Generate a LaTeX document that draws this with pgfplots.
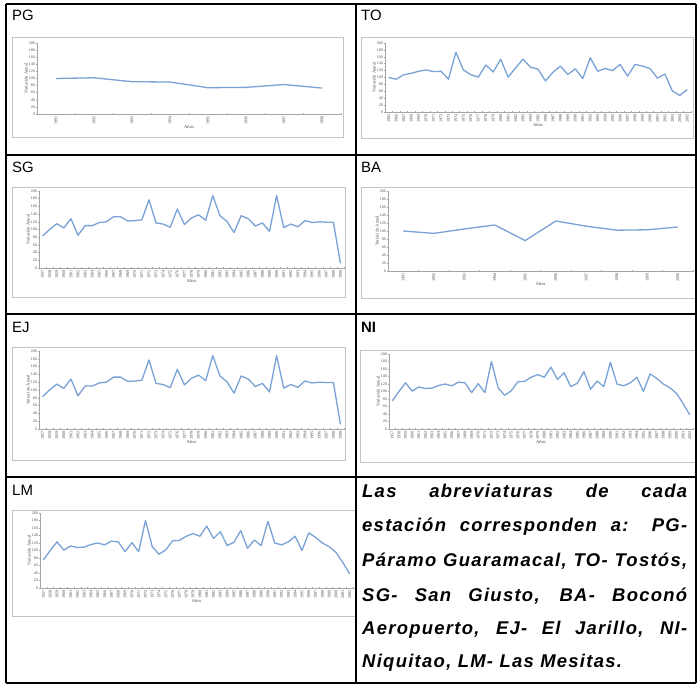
\documentclass[border=0pt]{standalone}
\usepackage{fontspec}
\setmainfont{Liberation Serif}
\newfontfamily\arial{Liberation Sans}
\newfontfamily\arialls[LetterSpace=7]{Liberation Sans}
\usepackage{pgfplots}
\pgfplotsset{compat=1.18}
\definecolor{serie}{RGB}{122,162,214}
\definecolor{boxg}{RGB}{195,195,195}
\definecolor{axg}{RGB}{165,165,165}
\definecolor{txg}{RGB}{80,80,80}
\pgfplotsset{
 mini/.style={
  scale only axis, anchor=south west,
  ymin=0, ymax=200, ytick={0,20,...,200},
  axis x line*=bottom, axis y line*=left,
  axis line style={draw=axg, line width=0.5pt, -},
  tick style={draw=axg, line width=0.4pt},
  major tick length=2bp, minor tick length=2bp,
  tick align=center,
  every major x tick/.append style={draw=none},
  /pgf/number format/assume math mode=true,
  yticklabel style={font=\fontsize{4}{4}\selectfont, text=txg, inner sep=1pt},
  xticklabel style={font=\fontsize{4.3}{4.3}\selectfont, text=txg, rotate=90, anchor=east, inner sep=1pt},
  ylabel={Variación Anual},
  ylabel style={font=\fontsize{4.6}{4.6}\selectfont, text=txg, inner sep=0pt},
  xlabel={Años},
  xlabel style={font=\fontsize{4.6}{4.6}\selectfont, text=txg, inner sep=0pt, yshift=1bp},
  clip=false,
 },
 ser/.style={serie, line width=1.3bp, line join=round},
}
\begin{document}
\begin{tikzpicture}[x=1bp,y=1bp]
\path[fill=white] (0,0) rectangle (697,685);
% chart boxes
\draw[boxg, line width=0.7bp] (12,548) rectangle (343,648);
\draw[boxg, line width=0.7bp] (361,547) rectangle (693,648);
\draw[boxg, line width=0.7bp] (12,388) rectangle (345,498);
\draw[boxg, line width=0.7bp] (361,387) rectangle (695,498);
\draw[boxg, line width=0.7bp] (12,225) rectangle (345,338);
\draw[boxg, line width=0.7bp] (360,223) rectangle (695,335);
\draw[boxg, line width=0.7bp] (356,69) -- (12,69) -- (12,175) -- (356,175);

% PG
\begin{axis}[mini, at={(37bp,571bp)}, width=304bp, height=71bp,
  xmin=0.5, xmax=8.5, xtick={1,...,8}, minor xtick={0.5,1.5,...,8.5},
  xticklabel={\pgfmathtruncatemacro\yr{\tick+1990}\yr}]
\addplot[ser] coordinates {(1,100)(2,102)(3,91)(4,90)(5,74)(6,75)(7,83)(8,73)};
\end{axis}

% TO
\begin{axis}[mini, at={(385bp,573bp)}, width=306bp, height=69bp,
  xmin=0.5, xmax=41.5, xtick={1,...,41}, minor xtick={0.5,1.5,...,41.5},
  xticklabel={\pgfmathtruncatemacro\yr{\tick+1964}\yr}]
\addplot[ser] coordinates {(1,100)(2,95)(3,108)(4,112)(5,118)(6,122)(7,117)(8,118)(9,95)(10,173)
(11,122)(12,108)(13,101)(14,136)(15,116)(16,153)(17,101)(18,128)(19,153)(20,130)
(21,124)(22,90)(23,115)(24,133)(25,109)(26,125)(27,97)(28,157)(29,118)(30,126)
(31,120)(32,138)(33,104)(34,138)(35,133)(36,126)(37,98)(38,110)(39,61)(40,48)(41,65)};
\end{axis}

% SG
\begin{axis}[mini, at={(39bp,417bp)}, width=305bp, height=77bp,
  xmin=0.5, xmax=43.5, xtick={1,...,43}, minor xtick={0.5,1.5,...,43.5},
  xticklabel={\pgfmathtruncatemacro\yr{\tick+1956}\yr}]
\addplot[ser] coordinates {(1,83)(2,100)(3,115)(4,104)(5,128)(6,85)(7,110)(8,110)(9,118)(10,120)
(11,133)(12,133)(13,122)(14,123)(15,125)(16,177)(17,117)(18,114)(19,106)(20,153)
(21,113)(22,130)(23,138)(24,124)(25,188)(26,136)(27,121)(28,92)(29,136)(30,128)
(31,109)(32,117)(33,95)(34,188)(35,105)(36,114)(37,107)(38,123)(39,118)(40,120)
(41,119)(42,119)(43,12)};
\end{axis}

% BA
\begin{axis}[mini, at={(388bp,414bp)}, width=305bp, height=80bp,
  xmin=0.5, xmax=10.5, xtick={1,...,10}, minor xtick={0.5,1.5,...,10.5},
  xticklabel={\pgfmathtruncatemacro\yr{\tick+1990}\yr}]
\addplot[ser] coordinates {(1,100)(2,94)(3,105)(4,115)(5,76)(6,125)(7,112)(8,102)(9,103)(10,110)};
\end{axis}

% EJ
\begin{axis}[mini, at={(39bp,256bp)}, width=305bp, height=78bp,
  xmin=0.5, xmax=43.5, xtick={1,...,43}, minor xtick={0.5,1.5,...,43.5},
  xticklabel={\pgfmathtruncatemacro\yr{\tick+1956}\yr}]
\addplot[ser] coordinates {(1,83)(2,100)(3,115)(4,104)(5,128)(6,85)(7,110)(8,110)(9,118)(10,120)
(11,133)(12,133)(13,122)(14,123)(15,125)(16,177)(17,117)(18,114)(19,106)(20,153)
(21,113)(22,130)(23,138)(24,124)(25,188)(26,136)(27,121)(28,92)(29,136)(30,128)
(31,109)(32,117)(33,95)(34,188)(35,105)(36,114)(37,107)(38,123)(39,118)(40,120)
(41,119)(42,119)(43,12)};
\end{axis}

% NI
\begin{axis}[mini, at={(389bp,256bp)}, width=304bp, height=75bp,
  xmin=0.5, xmax=46.5, xtick={1,...,46}, minor xtick={0.5,1.5,...,46.5},
  xticklabel={\pgfmathtruncatemacro\yr{\tick+1956}\yr}]
\addplot[ser] coordinates {(1,75)(2,100)(3,123)(4,101)(5,112)(6,108)(7,109)(8,116)(9,120)(10,115)
(11,125)(12,123)(13,97)(14,121)(15,97)(16,180)(17,110)(18,90)(19,102)(20,126)
(21,127)(22,138)(23,145)(24,138)(25,165)(26,132)(27,150)(28,113)(29,122)(30,153)
(31,106)(32,128)(33,113)(34,178)(35,120)(36,115)(37,123)(38,138)(39,100)(40,147)
(41,135)(42,120)(43,110)(44,95)(45,68)(46,38)};
\end{axis}

% LM (cut at the cell border)
\begin{scope}
\clip (0,0) rectangle (355,685);
\begin{axis}[mini, at={(40bp,97bp)}, width=313bp, height=75bp,
  xmin=0.5, xmax=46.5, xtick={1,...,46}, minor xtick={0.5,1.5,...,46.5},
  xticklabel={\pgfmathtruncatemacro\yr{\tick+1956}\yr}]
\addplot[ser] coordinates {(1,75)(2,100)(3,123)(4,101)(5,112)(6,108)(7,109)(8,116)(9,120)(10,115)
(11,125)(12,123)(13,97)(14,121)(15,97)(16,180)(17,110)(18,90)(19,102)(20,126)
(21,127)(22,138)(23,145)(24,138)(25,165)(26,132)(27,150)(28,113)(29,122)(30,153)
(31,106)(32,128)(33,113)(34,178)(35,120)(36,115)(37,123)(38,138)(39,100)(40,147)
(41,135)(42,120)(43,110)(44,95)(45,68)(46,38)};
\end{axis}
\end{scope}

% cell titles
\node[anchor=base west, inner sep=0pt, font=\arial\fontsize{15}{15}\selectfont] at (12,664) {PG};
\node[anchor=base west, inner sep=0pt, font=\arial\fontsize{15}{15}\selectfont] at (361,664) {TO};
\node[anchor=base west, inner sep=0pt, font=\arial\fontsize{15}{15}\selectfont] at (12,512) {SG};
\node[anchor=base west, inner sep=0pt, font=\arial\fontsize{15}{15}\selectfont] at (361,512) {BA};
\node[anchor=base west, inner sep=0pt, font=\arial\fontsize{15}{15}\selectfont] at (12,352) {EJ};
\node[anchor=base west, inner sep=0pt, font=\arial\bfseries\fontsize{15}{15}\selectfont] at (361,352) {NI};
\node[anchor=base west, inner sep=0pt, font=\arial\fontsize{15}{15}\selectfont] at (12,189) {LM};

% text cell
\begin{scope}[every node/.style={anchor=base west, inner sep=0pt, font=\arialls\bfseries\itshape\fontsize{18.5}{18.5}\selectfont}]
\node at (362,187) {\makebox[325bp][s]{Las abreviaturas de cada}};
\node at (362,153) {\makebox[325bp][s]{estación corresponden a: PG-}};
\node at (362,118) {\makebox[325bp][s]{Páramo Guaramacal, TO- Tostós,}};
\node at (362,83) {\makebox[325bp][s]{SG- San Giusto, BA- Boconó}};
\node at (362,50) {\makebox[325bp][s]{Aeropuerto, EJ- El Jarillo, NI-}};
\node at (362,17) {Niquitao, LM- Las Mesitas.};
\end{scope}

% table rules
\draw[black, line width=1.3bp] (6,681) -- (696,681);
\draw[black, line width=1.3bp] (6,530) -- (696,530);
\draw[black, line width=1.3bp] (6,371) -- (696,371);
\draw[black, line width=1.3bp] (6,208) -- (696,208);
\draw[black, line width=1.3bp] (6,2) -- (696,2);
\draw[black, line width=1.3bp] (6,2) -- (6,681);
\draw[black, line width=1.3bp] (356,2) -- (356,681);
\draw[black, line width=1.3bp] (696,2) -- (696,681);
\pgfresetboundingbox
\path (0,0) rectangle (697,685);
\end{tikzpicture}
\end{document}
